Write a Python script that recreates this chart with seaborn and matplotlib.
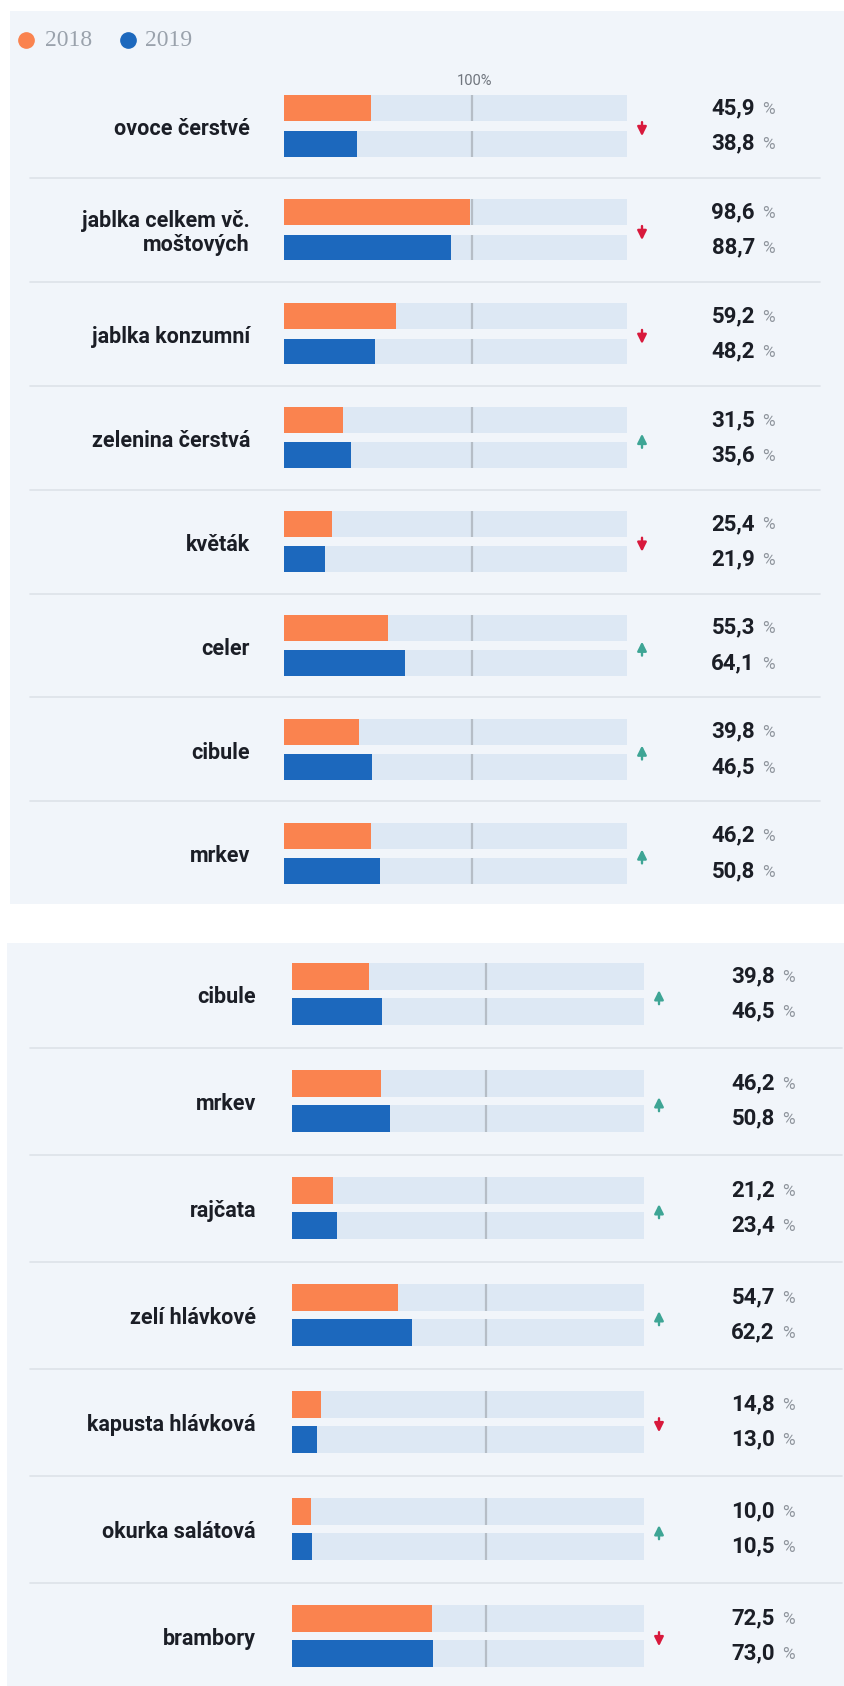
import matplotlib
matplotlib.use("Agg")
import matplotlib.pyplot as plt
import matplotlib.transforms as mtrans
from matplotlib.patches import Rectangle
from matplotlib.lines import Line2D
import seaborn as sns
import pandas as pd

# ---------------- data ----------------
years = ["2018", "2019"]

top_categories = ["ovoce čerstvé", "jablka celkem vč.\nmoštových", "jablka konzumní",
                  "zelenina čerstvá", "květák", "celer", "cibule", "mrkev"]
top_2018 = [45.9, 98.6, 59.2, 31.5, 25.4, 55.3, 39.8, 46.2]
top_2019 = [38.8, 88.7, 48.2, 35.6, 21.9, 64.1, 46.5, 50.8]
top_trend = ["down", "down", "down", "up", "down", "up", "up", "up"]

bottom_categories = ["cibule", "mrkev", "rajčata", "zelí hlávkové",
                     "kapusta hlávková", "okurka salátová", "brambory"]
bottom_2018 = [39.8, 46.2, 21.2, 54.7, 14.8, 10.0, 72.5]
bottom_2019 = [46.5, 50.8, 23.4, 62.2, 13.0, 10.5, 73.0]
bottom_trend = ["up", "up", "up", "up", "down", "up", "down"]

reference_value = 100
track_max = 182

# ---------------- style ----------------
sns.set_style("white")
plt.rcParams["font.family"] = ["Roboto", "DejaVu Sans"]

C_ORANGE = "#fa834f"
C_BLUE = "#1c68bd"
C_TRACK = "#dde8f4"
C_PANEL = "#f1f5fa"
C_SEP = "#dde2e8"
C_REF = "#b5bdc6"
C_TEXT = "#1b1e26"
C_PCT = "#8f959d"
C_DOWN = "#d8193c"
C_UP = "#3ea595"

W, H = 845, 1686
fig = plt.figure(figsize=(W / 100, H / 100), dpi=100)
fig.patch.set_facecolor("white")


def fx(px):
    return px / W


def fy(py):
    return 1 - py / H


def panel(x0, y0, x1, y1):
    fig.add_artist(Rectangle((fx(x0), fy(y1)), (x1 - x0) / W, (y1 - y0) / H,
                             transform=fig.transFigure, facecolor=C_PANEL,
                             edgecolor="none", zorder=0))


panel(10, 11, 845, 904)
panel(7, 943, 845, 1686)

# legend
for cx, tx, col, lab in [(26, 45, C_ORANGE, years[0]), (128, 145, C_BLUE, years[1])]:
    fig.add_artist(Line2D([fx(cx)], [fy(40)], marker="o", ms=11, color=col,
                          linestyle="none", transform=fig.transFigure))
    fig.text(fx(tx), fy(41), lab, family=["Liberation Serif"], fontsize=17,
             color="#9aa2ac", va="center", ha="left")


def draw_panel(cats, v18, v19, trend, left, right, first_center, pitch,
               width, gap, label_x, arrow_x, num_x, sep_x1, show_ref_label):
    n = len(cats)
    top = first_center - pitch / 2
    bottom = first_center + (n - 0.5) * pitch
    ax = fig.add_axes([fx(left), fy(bottom), (right - left) / W, (bottom - top) / H])
    ax.set_facecolor("none")

    df = pd.DataFrame({
        "cat": cats * 2,
        "year": [years[0]] * n + [years[1]] * n,
        "value": list(v18) + list(v19),
    })
    track_df = df.assign(value=track_max)

    sns.barplot(data=track_df, x="value", y="cat", hue="year", order=cats,
                hue_order=years, palette=[C_TRACK, C_TRACK], orient="h",
                width=width, gap=gap, errorbar=None, linewidth=0, saturation=1,
                legend=False, ax=ax, zorder=1)
    track_patches = list(ax.patches)
    sns.barplot(data=df, x="value", y="cat", hue="year", order=cats,
                hue_order=years, palette=[C_ORANGE, C_BLUE], orient="h",
                width=width, gap=gap, errorbar=None, linewidth=0, saturation=1,
                legend=False, ax=ax, zorder=3)

    # 100 % reference segments inside each track
    for p in track_patches:
        y0 = p.get_y()
        ax.vlines(reference_value, y0, y0 + p.get_height(), color=C_REF,
                  lw=1.6, zorder=2)

    ax.set_xlim(0, track_max)
    ax.set_ylim(n - 0.5, -0.5)
    ax.axis("off")

    tr = mtrans.blended_transform_factory(fig.transFigure, ax.transData)
    off = width / 4
    half_arrow = 7.0 / pitch
    for i, cat in enumerate(cats):
        ax.text(fx(label_x), i + 0.03, cat, transform=tr, ha="right", va="center",
                multialignment="right", fontsize=15.5, fontweight="bold",
                color=C_TEXT, linespacing=1.1, clip_on=False)
        for val, dy in [(v18[i], -off), (v19[i], off)]:
            ax.text(fx(num_x), i + dy, f"{val:.1f}".replace(".", ","),
                    transform=tr, ha="right", va="center", fontsize=16,
                    fontweight="bold", color=C_TEXT, clip_on=False)
            ax.text(fx(num_x + 7), i + dy + 0.01, "%", transform=tr, ha="left",
                    va="center", fontsize=12.5, color=C_PCT, clip_on=False)
        up = trend[i] == "up"
        yc = i + 0.03
        y_tail, y_head = (yc + half_arrow, yc - half_arrow) if up else (yc - half_arrow, yc + half_arrow)
        ax.annotate("", xy=(fx(arrow_x), y_head), xytext=(fx(arrow_x), y_tail),
                    xycoords=tr, textcoords=tr, annotation_clip=False,
                    arrowprops=dict(arrowstyle="-|>,head_length=0.6,head_width=0.3",
                                    mutation_scale=9, lw=1.7,
                                    color=C_UP if up else C_DOWN,
                                    shrinkA=0, shrinkB=0))
        if i < n - 1:
            ax.add_line(Line2D([fx(30), fx(sep_x1)], [i + 0.5, i + 0.5],
                               transform=tr, color=C_SEP, lw=1.2, clip_on=False))

    if show_ref_label:
        ref_px = left + (right - left) * reference_value / track_max
        fig.text(fx(ref_px + 2), fy(81), "100%", ha="center", va="center",
                 fontsize=10.5, color="#6f757d")
    return ax


draw_panel(top_categories, top_2018, top_2019, top_trend,
           left=284, right=627, first_center=126, pitch=103.9,
           width=0.68, gap=0.27, label_x=250, arrow_x=642, num_x=755,
           sep_x1=820, show_ref_label=True)

draw_panel(bottom_categories, bottom_2018, bottom_2019, bottom_trend,
           left=292, right=644.5, first_center=994, pitch=107,
           width=0.654, gap=0.23, label_x=256, arrow_x=659, num_x=775,
           sep_x1=842, show_ref_label=False)

fig.savefig("out.png", dpi=100, facecolor="white")
